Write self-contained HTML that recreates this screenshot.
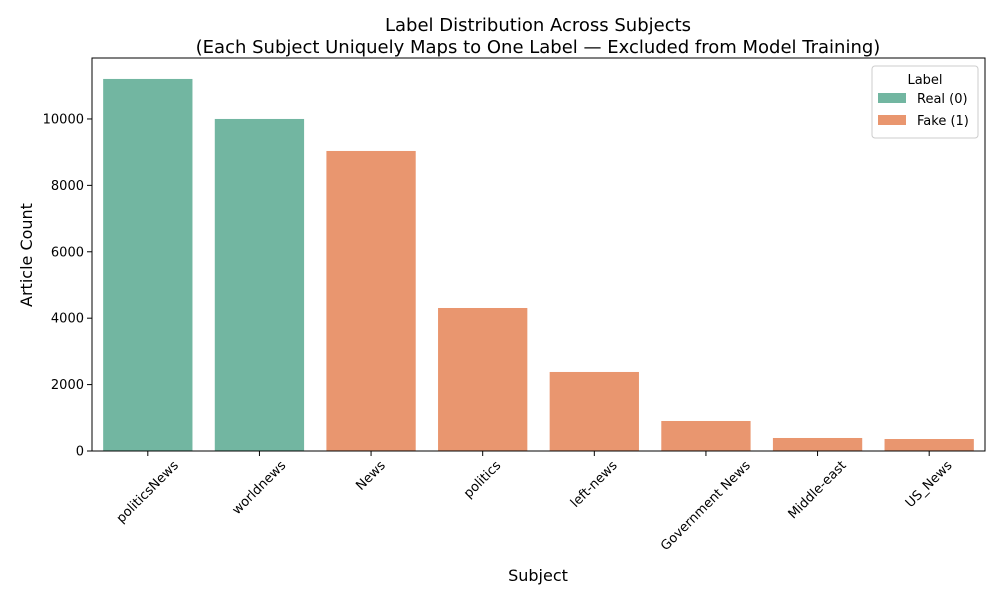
<!DOCTYPE html>
<html><head><meta charset="utf-8"><style>
body{margin:0;background:#fff;font-family:"Liberation Sans","DejaVu Sans",sans-serif;}
</style></head><body>
<svg width="1000" height="600" xmlns="http://www.w3.org/2000/svg" id="chart" font-family="DejaVu Sans, Liberation Sans, sans-serif">
<text x="538" y="31" text-anchor="middle" font-size="18">Label Distribution Across Subjects</text>
<text x="538" y="53" text-anchor="middle" font-size="18">(Each Subject Uniquely Maps to One Label — Excluded from Model Training)</text>
<text x="538" y="581" text-anchor="middle" font-size="16">Subject</text>
<text transform="translate(32,255) rotate(-90)" text-anchor="middle" font-size="16">Article Count</text>
<g id="bars"></g><g id="ticks"></g>
<rect x="92" y="58" width="893" height="393" fill="none" stroke="#000" stroke-width="1"/>
<g>
<rect x="872" y="66" width="106" height="72" fill="#fff" stroke="#ccc" rx="3"/>
<text x="925" y="84" text-anchor="middle" font-size="13">Label</text>
<rect x="878" y="93" width="28" height="10" fill="#72b6a1"/>
<text x="917" y="103" font-size="13">Real (0)</text>
<rect x="878" y="115" width="28" height="10" fill="#e9966f"/>
<text x="917" y="125" font-size="13">Fake (1)</text>
</g>
</svg>
<script>
const categories=["politicsNews","worldnews","News","politics","left-news","Government News","Middle-east","US_News"];
const counts=[11205,10000,9036,4307,2380,904,392,361];
const labels=[0,0,1,1,1,1,1,1];
const yTicks=[0,2000,4000,6000,8000,10000];
const colors=["#72b6a1","#e9966f"];
const L=92,R=985,T=58,B=451,yMax=11836;
const ns="http://www.w3.org/2000/svg";
const band=(R-L)/categories.length;
const xs=i=>L+band*i+band/2;
const ys=v=>B-(v/yMax)*(B-T);
const bars=document.getElementById('bars'),ticks=document.getElementById('ticks');
function mk(t,a,p){const e=document.createElementNS(ns,t);for(const k in a)e.setAttribute(k,a[k]);p.appendChild(e);return e;}
categories.forEach((c,i)=>{
 const w=band*0.8;
 const r=mk('rect',{x:xs(i)-w/2,y:ys(counts[i]),width:w,height:B-ys(counts[i]),fill:colors[labels[i]]},bars);
 
 
 mk('line',{x1:xs(i),x2:xs(i),y1:B,y2:B+5,stroke:'#000'},ticks);
 const t=mk('text',{x:0,y:0,'font-size':13,'text-anchor':'middle','dominant-baseline':'central'},ticks);
 t.textContent=c;
 
 
 const len=t.getComputedTextLength();
 const bh=(len+13)*0.7071;
 const cy=B+8+bh/2;
 t.setAttribute('transform',`translate(${xs(i)} ${cy}) rotate(-45)`);
});
yTicks.forEach(v=>{
 mk('line',{x1:L-5,x2:L,y1:ys(v),y2:ys(v),stroke:'#000'},ticks);
 const t=mk('text',{x:L-8,y:ys(v)+4.5,'font-size':13,'text-anchor':'end'},ticks);
 t.textContent=v;
 
 
});
</script>
</body></html>
